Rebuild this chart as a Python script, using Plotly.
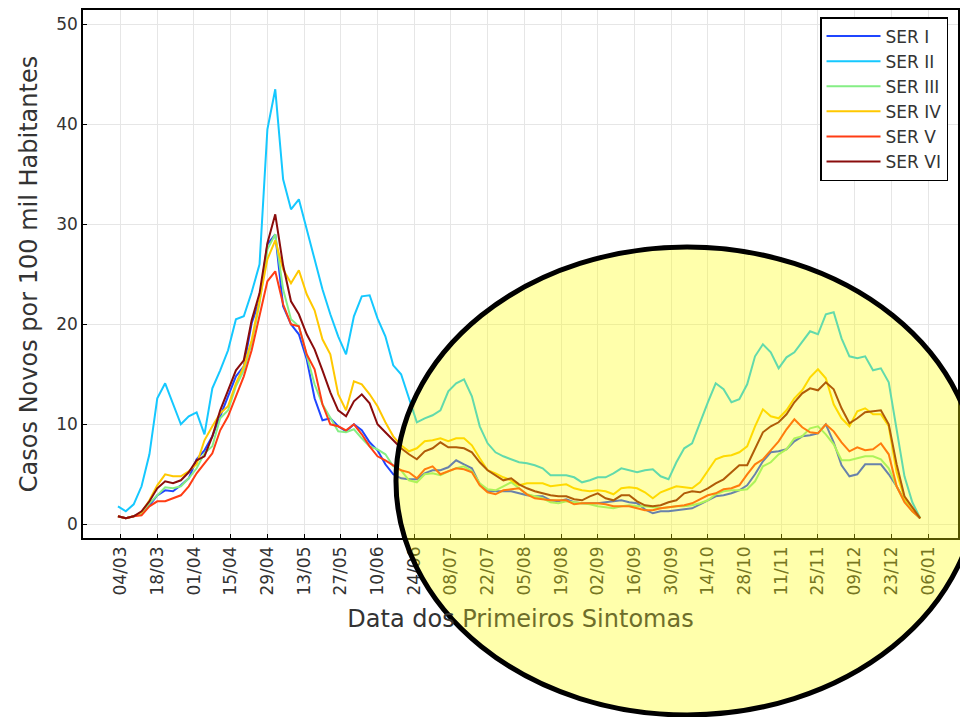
import pandas as pd
import plotly.graph_objects as go

# Sampling dates: every 3 days from 03/03/2020 to 04/01/2021
dates = pd.date_range("2020-03-03", periods=103, freq="3D")
tick_dates = pd.date_range("2020-03-04", "2021-01-06", freq="14D")

ser_names = ["SER I", "SER II", "SER III", "SER IV", "SER V", "SER VI"]

ser1 = [0.8, 0.6, 0.8, 1.1, 1.9, 2.9, 3.4, 3.3, 3.9, 4.6,
        6.5, 7.4, 8.8, 10.8, 12.8, 14.8, 15.8, 20.1, 22.4, 28.0,
        29.0, 21.8, 20.0, 19.0, 16.5, 12.6, 10.4, 10.6, 9.8, 9.3,
        10.0, 9.4, 8.2, 7.4, 6.0, 5.0, 4.6, 4.5, 4.5, 5.1,
        5.4, 5.4, 5.7, 6.4, 6.0, 5.6, 4.0, 3.3, 3.3, 3.3,
        3.3, 3.1, 2.9, 2.8, 2.8, 2.4, 2.3, 2.5, 2.2, 2.1,
        2.1, 2.1, 2.2, 2.3, 2.4, 2.2, 2.1, 1.5, 1.1, 1.3,
        1.3, 1.4, 1.5, 1.6, 2.0, 2.4, 2.8, 2.9, 3.1, 3.4,
        3.9, 5.0, 6.3, 7.2, 7.3, 7.5, 8.3, 8.8, 8.9, 9.1,
        10.0, 8.2, 5.9, 4.8, 5.0, 6.0, 6.0, 6.0, 5.0, 3.8,
        2.4, 1.4, 0.6]

ser2 = [1.8, 1.3, 2.0, 3.8, 7.0, 12.6, 14.1, 12.0, 10.0, 10.8,
        11.2, 9.0, 13.6, 15.4, 17.4, 20.5, 20.8, 23.2, 26.0, 39.5,
        43.5, 34.5, 31.5, 32.5, 29.6, 26.5, 23.5, 21.0, 18.8, 17.0,
        20.8, 22.8, 22.9, 20.6, 18.8, 15.9, 15.0, 12.6, 10.2, 10.6,
        10.9, 11.4, 13.3, 14.1, 14.5, 12.8, 9.8, 8.1, 7.2, 6.8,
        6.5, 6.2, 6.1, 5.9, 5.6, 4.9, 4.9, 4.9, 4.7, 4.2,
        4.4, 4.7, 4.7, 5.1, 5.6, 5.4, 5.2, 5.4, 5.5, 4.8,
        4.5, 6.2, 7.6, 8.1, 10.2, 12.2, 14.1, 13.5, 12.2, 12.5,
        14.0, 16.8, 18.0, 17.2, 15.6, 16.7, 17.2, 18.2, 19.3, 19.0,
        21.0, 21.2, 18.6, 16.8, 16.6, 16.8, 15.4, 15.6, 14.2, 9.5,
        4.8, 2.2, 0.6]

ser3 = [0.8, 0.6, 0.8, 1.1, 2.1, 2.9, 3.7, 3.6, 3.8, 4.6,
        5.6, 7.1, 7.8, 10.6, 11.4, 13.8, 15.4, 18.1, 22.1, 27.5,
        29.0, 23.5, 20.5, 19.8, 17.0, 14.0, 12.0, 10.6, 9.3, 9.2,
        9.5, 8.6, 7.8, 7.5, 7.0, 5.8, 5.4, 4.4, 4.2, 5.0,
        5.1, 4.9, 5.3, 5.6, 5.8, 5.3, 4.1, 3.5, 3.4, 3.8,
        4.2, 3.6, 3.0, 2.8, 2.6, 2.2, 2.1, 2.3, 2.2, 2.1,
        2.0, 1.8, 1.7, 1.6, 1.8, 1.9, 1.8, 1.8, 1.7, 1.6,
        1.7, 1.8, 1.8, 1.9, 2.1, 2.4, 3.0, 3.3, 3.4, 3.4,
        3.5, 4.3, 5.8, 6.2, 7.0, 7.5, 8.6, 8.8, 9.6, 9.8,
        9.0, 8.0, 6.4, 6.4, 6.6, 6.8, 6.8, 6.5, 5.6, 3.8,
        2.3, 1.3, 0.6]

ser4 = [0.8, 0.6, 0.8, 1.2, 2.4, 3.9, 5.0, 4.8, 4.8, 5.3,
        6.0, 8.4, 9.8, 11.1, 11.8, 14.1, 15.8, 18.4, 22.4, 26.5,
        28.4, 25.5, 24.1, 25.4, 23.0, 21.4, 18.5, 17.0, 13.0, 11.4,
        14.3, 14.0, 13.0, 11.8, 10.2, 8.8, 7.9, 7.3, 7.6, 8.3,
        8.4, 8.6, 8.3, 8.6, 8.6, 7.9, 6.6, 5.4, 5.1, 4.7,
        4.4, 3.9, 4.1, 4.1, 4.1, 3.8, 3.9, 4.0, 3.6, 3.4,
        3.3, 3.4, 3.3, 3.0, 3.6, 3.7, 3.6, 3.2, 2.6, 3.2,
        3.5, 3.8, 3.7, 3.6, 4.2, 5.4, 6.5, 6.8, 6.9, 7.2,
        7.8, 9.8, 11.5, 10.8, 10.6, 11.4, 12.6, 13.4, 14.7, 15.5,
        14.6, 12.0, 10.6, 9.8, 11.3, 11.6, 11.0, 11.0, 9.8, 5.2,
        2.6, 1.6, 0.6]

ser5 = [0.8, 0.6, 0.8, 0.9, 1.8, 2.3, 2.3, 2.6, 2.9, 3.8,
        5.1, 6.1, 7.1, 9.4, 10.8, 12.8, 14.8, 17.4, 20.8, 24.3,
        25.3, 22.0, 20.0, 19.8, 17.0, 15.5, 12.0, 10.0, 9.8, 9.4,
        10.0, 9.0, 7.8, 6.8, 6.4, 5.9, 5.4, 5.2, 4.6, 5.5,
        5.8, 5.0, 5.3, 5.6, 5.5, 5.2, 3.9, 3.2, 3.0, 3.4,
        3.5, 3.6, 3.0, 2.6, 2.5, 2.4, 2.4, 2.4, 2.0, 2.1,
        2.1, 2.1, 2.0, 1.8, 1.8, 1.8, 1.6, 1.4, 1.4, 1.6,
        1.7, 1.8, 1.9, 2.1, 2.5, 2.9, 3.1, 3.5, 3.6, 3.9,
        5.0, 6.0, 6.5, 7.4, 8.3, 9.5, 10.5, 9.7, 9.2, 9.1,
        10.0, 9.3, 8.2, 7.3, 7.7, 7.4, 7.5, 8.1, 7.0, 3.8,
        2.2, 1.3, 0.6]

ser6 = [0.8, 0.6, 0.8, 1.3, 2.3, 3.6, 4.3, 4.1, 4.4, 5.2,
        6.4, 6.8, 8.8, 11.4, 13.4, 15.4, 16.4, 20.4, 23.1, 28.1,
        31.0, 25.9, 22.3, 21.0, 19.0, 17.5, 15.4, 13.2, 11.4, 10.8,
        12.3, 13.0, 12.1, 10.0, 9.2, 8.4, 7.6, 7.0, 6.5, 7.3,
        7.6, 8.2, 7.7, 7.7, 7.6, 7.2, 6.2, 5.4, 4.9, 4.4,
        4.6, 4.0, 3.6, 3.3, 3.1, 2.9, 2.8, 2.8, 2.5, 2.4,
        2.8, 3.1, 2.6, 2.4, 2.9, 2.9, 2.3, 1.9, 1.8, 1.9,
        2.2, 2.4, 3.1, 3.3, 3.2, 3.6, 4.1, 4.5, 5.2, 5.9,
        5.9, 7.6, 9.2, 9.8, 10.2, 11.0, 12.2, 13.1, 13.6, 13.4,
        14.2, 13.5, 11.6, 10.1, 10.6, 11.2, 11.3, 11.4, 10.0, 6.0,
        2.8, 1.7, 0.6]

series = [ser1, ser2, ser3, ser4, ser5, ser6]
colors = ["#1f45ff", "#15c8ff", "#85ee85", "#ffc800", "#ff3c14", "#8a0c0c"]

fig = go.Figure()
for i, (name, vals, col) in enumerate(zip(ser_names, series, colors)):
    fig.add_trace(go.Scatter(x=dates, y=vals, mode="lines", name=name,
                             legendgroup=f"g{i}",
                             line=dict(color=col, width=2)))

fig.update_layout(
    width=960, height=709,
    margin=dict(l=75, r=10, t=2, b=179, autoexpand=False),
    paper_bgcolor="white", plot_bgcolor="white",
    font=dict(family="DejaVu Sans", color="#333333"),
    showlegend=True,
    legend=dict(x=0.9886, y=0.9867, xanchor="right", yanchor="top",
                bgcolor="white", bordercolor="black", borderwidth=1.5,
                itemwidth=54,
                font=dict(size=17, color="#333333"), tracegroupgap=0),
    xaxis=dict(
        type="date",
        range=["2020-02-18 16:00", "2021-01-17 10:00"],
        tickmode="array", tickvals=tick_dates,
        tickformat="%d/%m", tickangle=-90,
        tickfont=dict(family="DejaVu Sans", size=17, color="#333333"),
        showgrid=True, gridcolor="#e6e6e6", gridwidth=1,
        showline=True, linecolor="black", linewidth=1.5, mirror=True,
        ticks="inside", ticklen=4, tickcolor="black",
        automargin=False,
        title=dict(text="Data dos <span style='color:#6e6e2a'>Primeiros Sintomas</span>",
                   font=dict(size=24, color="#333333"), standoff=16),
    ),
    yaxis=dict(
        range=[-1.37, 51.43],
        tickmode="array", tickvals=[0, 10, 20, 30, 40, 50],
        tickfont=dict(size=17, color="#333333"),
        showgrid=True, gridcolor="#e6e6e6", gridwidth=1,
        zeroline=False,
        showline=True, linecolor="black", linewidth=1.5, mirror=True,
        ticks="inside", ticklen=4, tickcolor="black",
        automargin=False,
        title=dict(text="Casos Novos por 100 mil Habitantes",
                   font=dict(size=24, color="#333333"), standoff=12),
    ),
    shapes=[dict(type="circle", xref="paper", yref="paper",
                 x0=0.3577, x1=1.0229, y0=-0.3352, y1=0.5511,
                 fillcolor="rgba(255,255,0,0.33)",
                 line=dict(color="black", width=5), layer="above")],
)

fig.write_html("out.html")
